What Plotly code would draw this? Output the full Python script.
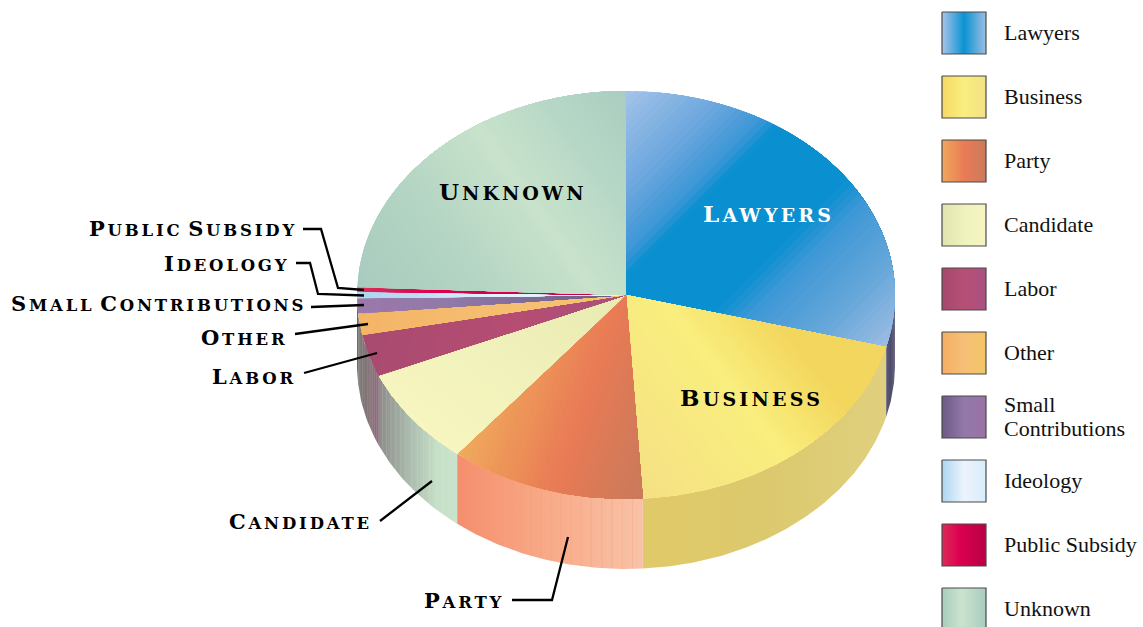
import numpy as np
import plotly.graph_objects as go

# ---- data ----
categories = ["Lawyers", "Business", "Party", "Candidate", "Labor", "Other",
              "Small Contributions", "Ideology", "Public Subsidy", "Unknown"]
values = [29.1, 19.9, 11.8, 7.75, 3.3, 1.7, 1.2, 0.5, 0.35, 24.4]
legend_labels = ["Lawyers", "Business", "Party", "Candidate", "Labor", "Other",
                 "Small<br>Contributions", "Ideology", "Public Subsidy", "Unknown"]

# ---- geometry / style ----
W, H = 1143, 627
CX, CY, RX, RY, DEPTH = 626, 295, 269, 204, 70

top_dir = [(0.7, 0.7), (0.786, -0.618), (1, 0.35), (-0.6, 0.8), (1, 0.3), (1, 0.2), (1, 0), (1, 0), (1, 0), (0.81, -0.58)]
top_stops = [
    [(0, "#a3c3ea"), (0.2, "#6ca7dd"), (0.32, "#3a96d6"), (0.36, "#0a90d0"), (0.60, "#0a90d0"),
     (0.68, "#3f98d6"), (0.85, "#68a8da"), (1, "#9dbde3")],
    [(0, "#f5e084"), (0.49, "#f9ee7e"), (0.76, "#f3d65c"), (1, "#f3d660")],
    [(0, "#f0ab5c"), (0.55, "#e97a55"), (0.8, "#d67a58"), (1, "#c97a5c")],
    [(0, "#e8eab2"), (0.5, "#f0f1ba"), (1, "#f7f5c0")],
    [(0, "#a84a70"), (0.6, "#b64d72"), (1, "#a85080")],
    [(0, "#f4b466"), (0.6, "#f6bf72"), (1, "#f3c46a")],
    [(0, "#9c78aa"), (0.35, "#9079a8"), (1, "#6a5a84")],
    [(0, "#a9d5f1"), (0.25, "#bfe0f6"), (0.5, "#e6f2fc"), (1, "#e6f2fc")],
    [(0, "#dc2e5a"), (0.3, "#d9004f"), (1, "#c00048")],
    [(0, "#a7cbbe"), (0.3, "#b4d5c3"), (0.575, "#c8e2cb"), (0.8, "#b6d7c6"), (1, "#a9cdc0")],
]
wall_stops = [
    [(0, "#5d5878"), (0.5, "#4e4c6a"), (1, "#6a6684")],
    [(0, "#e1c968"), (0.5, "#dcc96e"), (1, "#e0d07e")],
    [(0, "#f58e6d"), (0.5, "#f8ab88"), (1, "#f8c2a8")],
    [(0, "#8d8c88"), (0.4, "#abbcae"), (0.75, "#c6e0c8"), (1, "#cae3cc")],
    [(0, "#6c6664"), (0.5, "#847076"), (1, "#8c6a7a")],
    [(0, "#6a6662"), (1, "#6f6a68")],
    [(0, "#666260"), (1, "#6a6664")],
    [(0, "#666260"), (1, "#6a6664")],
    [(0, "#666260"), (1, "#6a6664")],
    [(0, "#666260"), (1, "#6a6664")],
]
# faint facet lines on the wall: (step in degrees, colour) or None
wall_facets = [None, None, (2.2, "rgba(243,150,115,0.28)"), (2.0, "rgba(255,255,255,0.12)"),
               (1.2, "rgba(255,255,255,0.14)"), (1.2, "rgba(255,255,255,0.14)"), None, None, None, None]
legend_stops = [
    [(0, "#a9c5e8"), (0.5, "#0a93d3"), (1, "#9dbde2")],
    [(0, "#f5d862"), (0.5, "#f9ee80"), (1, "#f3e184")],
    [(0, "#f0a85c"), (0.5, "#ea7b56"), (1, "#cb7a5a")],
    [(0, "#dfe3ae"), (0.5, "#f0f2bd"), (1, "#f6f5c2")],
    [(0, "#a4486c"), (0.5, "#b84f74"), (1, "#a85182")],
    [(0, "#f4ae62"), (0.5, "#f6bf78"), (1, "#f3c566")],
    [(0, "#6c5a84"), (0.5, "#9279aa"), (1, "#9c72a4")],
    [(0, "#acd6f1"), (0.5, "#ecf4fd"), (1, "#d8ecfb")],
    [(0, "#dc2c58"), (0.4, "#dc004f"), (1, "#b80046")],
    [(0, "#a9cdbf"), (0.45, "#cbe3cd"), (1, "#a8ccbe")],
]
LEG_X0, LEG_X1, LEG_Y0, LEG_H, LEG_STEP = 942, 986, 12, 42, 64

# big/small cap text: (text, centre x, centre y, colour, cap size, small size, letter spacing)
labels = [
    ("Lawyers", 768, 213, "white", 23, 19, 3.2),
    ("Business", 751, 397, "black", 23, 19, 3.2),
    ("Unknown", 513, 191, "black", 23, 19, 3.0),
    ("Public Subsidy", 193, 228, "black", 21, 16.5, 2.8),
    ("Ideology", 226, 263, "black", 21, 16.5, 2.8),
    ("Small Contributions", 158, 303, "black", 21, 16.5, 2.8),
    ("Other", 244, 337, "black", 21, 16.5, 2.8),
    ("Labor", 254, 376, "black", 21, 16.5, 2.8),
    ("Candidate", 300, 521, "black", 21, 16.5, 2.8),
    ("Party", 464, 600, "black", 21, 16.5, 2.8),
]
leaders = [
    [(303, 229), (321, 229), (338, 288), (364, 290)],
    [(296, 263), (310, 263), (318, 294), (364, 295.5)],
    [(311, 307), (364, 305)],
    [(295, 334), (368, 324)],
    [(304, 373), (377, 353)],
    [(380, 521), (432, 481)],
    [(512, 600), (552, 600), (568, 537)],
]


def hex2rgb(h):
    return np.array([int(h[i:i + 2], 16) for i in (1, 3, 5)], float)


def sample(stops, t):
    pos = [s[0] for s in stops]
    cols = np.array([hex2rgb(s[1]) for s in stops])
    c = [np.interp(t, pos, cols[:, i]) for i in range(3)]
    return "rgb(%d,%d,%d)" % tuple(round(v) for v in c)


def rim(a0, a1, dy=0.0, n=None):
    n = n or max(3, int(abs(a1 - a0) * 90))
    a = np.linspace(a0, a1, n)
    return np.c_[CX + RX * np.sin(a), CY + dy - RY * np.cos(a)]


def clip_halfplane(poly, d, t):
    """keep the part of a convex polygon with dot(p,d) >= t"""
    out = []
    for i in range(len(poly)):
        p, q = poly[i], poly[(i + 1) % len(poly)]
        sp, sq = p @ d - t, q @ d - t
        if sp >= 0:
            out.append(p)
        if sp * sq < 0:
            out.append(p + (q - p) * sp / (sp - sq))
    return np.array(out)


def poly_trace(poly, color):
    xs = list(poly[:, 0]) + [poly[0, 0]]
    ys = list(poly[:, 1]) + [poly[0, 1]]
    return go.Scatter(x=xs, y=ys, mode="lines", fill="toself", fillcolor=color,
                      line=dict(width=0, color=color), hoverinfo="skip", showlegend=False)


def gradient(stops):
    return [[s[0], s[1]] for s in stops]


fig = go.Figure()
total = sum(values)
edges = np.concatenate([[0], np.cumsum(values)]) / total * 2 * np.pi

# side wall (front half of the cylinder only)
for i in range(len(values)):
    a0, a1 = max(edges[i], np.pi / 2), min(edges[i + 1], 3 * np.pi / 2)
    if a1 <= a0:
        continue
    top = rim(a0, a1)
    bot = rim(a1, a0, DEPTH)
    poly = np.vstack([top, bot])
    x0, x1 = poly[:, 0].min(), poly[:, 0].max()
    stops = wall_stops[i]
    fig.add_trace(go.Scatter(
        x=list(poly[:, 0]) + [poly[0, 0]], y=list(poly[:, 1]) + [poly[0, 1]],
        mode="lines", fill="toself", line=dict(width=0), hoverinfo="skip", showlegend=False,
        fillgradient=dict(type="horizontal", start=x0, stop=x1, colorscale=gradient(stops))))
    if wall_facets[i]:
        step, color = wall_facets[i]
        xs, ys = [], []
        for a in np.arange(a0 + np.radians(step), a1, np.radians(step)):
            x = CX + RX * np.sin(a)
            y = CY - RY * np.cos(a)
            xs += [x, x, None]
            ys += [y, y + DEPTH, None]
        fig.add_trace(go.Scatter(x=xs, y=ys, mode="lines", line=dict(color=color, width=1),
                                 hoverinfo="skip", showlegend=False))

# top face: painter's algorithm with diagonal gradient bands
for i in range(len(values)):
    poly = np.vstack([[CX, CY], rim(edges[i], edges[i + 1])])
    d = np.array(top_dir[i], float)
    d /= np.linalg.norm(d)
    proj = poly @ d
    tmin, tmax = proj.min(), proj.max()
    steps = max(2, int((tmax - tmin) / 6))
    for k in range(steps):
        t = tmin + (tmax - tmin) * k / steps
        clipped = poly if k == 0 else clip_halfplane(poly, d, t)
        if len(clipped) >= 3:
            fig.add_trace(poly_trace(clipped, sample(top_stops[i], (k + 0.5) / steps)))

# leader lines
for pts in leaders:
    fig.add_trace(go.Scatter(x=[p[0] for p in pts], y=[p[1] for p in pts], mode="lines",
                             line=dict(color="black", width=2.3), hoverinfo="skip", showlegend=False))

# legend swatches
for i, name in enumerate(legend_labels):
    y0 = LEG_Y0 + i * LEG_STEP
    y1 = y0 + LEG_H
    fig.add_trace(go.Scatter(
        x=[LEG_X0, LEG_X1, LEG_X1, LEG_X0, LEG_X0], y=[y0, y0, y1, y1, y0],
        mode="lines", fill="toself", line=dict(width=1.2, color="#4a4a4a"),
        hoverinfo="skip", showlegend=False,
        fillgradient=dict(type="horizontal", start=LEG_X0, stop=LEG_X1,
                          colorscale=gradient(legend_stops[i]))))
    lines = name.split("<br>")
    for j, line in enumerate(lines):
        ym = (y0 + y1) / 2 - 1 + (j - (len(lines) - 1) / 2) * 24
        fig.add_annotation(x=1002, y=ym, text=line, showarrow=False, xanchor="left",
                           yanchor="middle", align="left",
                           font=dict(family="Liberation Serif", size=22, color="#111111"))


def small_caps(text, big, small, sp):
    out = []
    for word in text.split(" "):
        out.append('<span style="font-size:%gpx;letter-spacing:%.1fpx">%s</span>'
                   '<span style="font-size:%gpx;letter-spacing:%.1fpx">%s</span>'
                   % (big, sp, word[0], small, sp, word[1:].upper()))
    return " ".join(out)


for text, x, y, color, big, small, sp in labels:
    fig.add_annotation(x=x, y=y, text=small_caps(text, big, small, sp), showarrow=False,
                       xanchor="center", yanchor="middle",
                       font=dict(family="DejaVu Serif", size=small, color=color, weight="bold"))

fig.update_layout(
    width=W, height=H, margin=dict(l=0, r=0, t=0, b=0), showlegend=False,
    plot_bgcolor="white", paper_bgcolor="white",
    xaxis=dict(range=[0, W], visible=False, fixedrange=True),
    yaxis=dict(range=[H, 0], visible=False, fixedrange=True),
)
fig.write_html("out.html", post_script="document.body.style.margin='0';",
               config={"displayModeBar": False})
